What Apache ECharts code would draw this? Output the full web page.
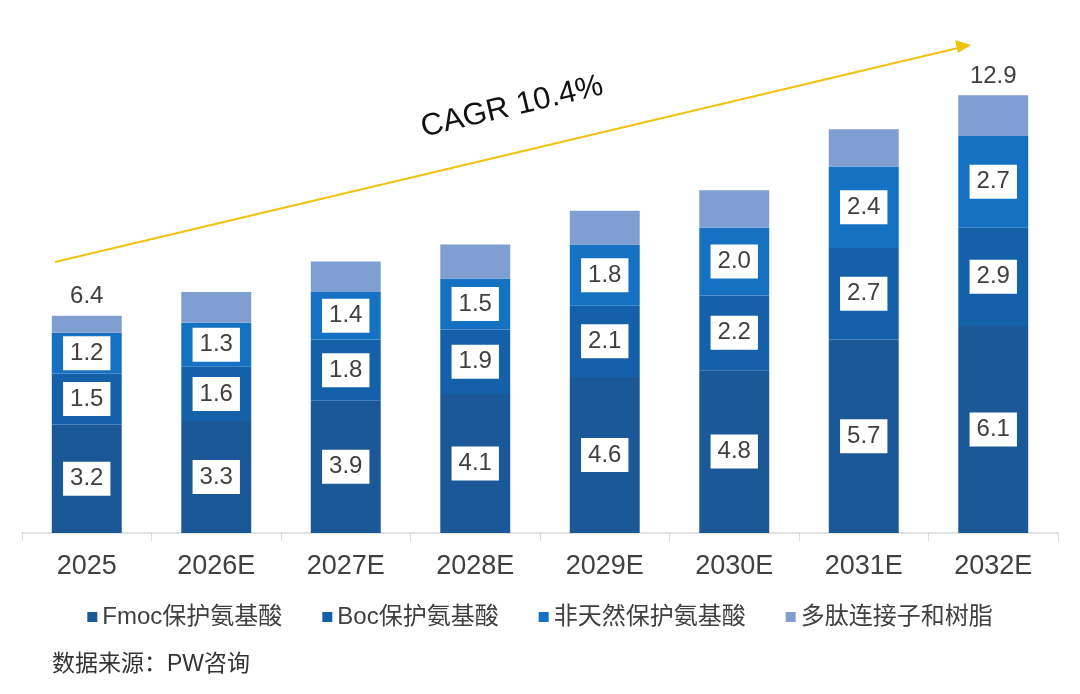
<!DOCTYPE html>
<html>
<head>
<meta charset="utf-8">
<script src="https://cdn.jsdelivr.net/npm/echarts@6/dist/echarts.min.js"></script>
<style>
  html, body { margin: 0; padding: 0; background: #fff; }
  #main { width: 1080px; height: 694px; }
</style>
</head>
<body>
<div id="main"></div>
<script>
// 年份
var years = ['2025', '2026E', '2027E', '2028E', '2029E', '2030E', '2031E', '2032E'];
// 各类产品规模
var fmocData = [3.2, 3.3, 3.9, 4.1, 4.6, 4.8, 5.7, 6.1];
var bocData = [1.5, 1.6, 1.8, 1.9, 2.1, 2.2, 2.7, 2.9];
var unnaturalData = [1.2, 1.3, 1.4, 1.5, 1.8, 2.0, 2.4, 2.7];
var linkerData = [0.5, 0.9, 0.9, 1.0, 1.0, 1.1, 1.1, 1.2];
// 总量标签（只标首尾）
var totalLabels = ['6.4', '', '', '', '', '', '', '12.9'];
var seriesNames = ['Fmoc保护氨基酸', 'Boc保护氨基酸', '非天然保护氨基酸', '多肽连接子和树脂'];

var numFont = '"Liberation Sans", Arial, "Noto Sans CJK SC", sans-serif';
var cnFont = '"Liberation Sans", "Noto Sans CJK SC", sans-serif';

var boxLabel = {
    show: true,
    position: 'inside',
    backgroundColor: '#ffffff',
    padding: [6, 7, 4, 7],
    color: '#404040',
    fontSize: 24,
    fontFamily: numFont,
    formatter: function (p) { return p.value.toFixed(1); }
};

var chart = echarts.init(document.getElementById('main'));
var option = {
    animation: false,
    color: ['#1a5898', '#1461a9', '#1571c2', '#7f9ed1'],
    grid: { left: 22, right: 22, top: 58, bottom: 161 },
    legend: {
        data: seriesNames,
        left: 'center',
        top: 600,
        itemWidth: 10,
        itemHeight: 10,
        itemGap: 40,
        icon: 'rect',
        textStyle: { color: '#404040', fontSize: 24, fontFamily: cnFont, padding: [0, 0, 0, 0] }
    },
    xAxis: {
        type: 'category',
        data: years,
        axisLine: { lineStyle: { color: '#d9d9d9', width: 1.5 } },
        axisTick: { show: true, length: 8, lineStyle: { color: '#d9d9d9' } },
        axisLabel: { color: '#404040', fontSize: 27, fontFamily: numFont, margin: 20 }
    },
    yAxis: {
        type: 'value',
        min: 0,
        max: 14,
        show: false,
        splitLine: { show: false }
    },
    series: [
        { name: seriesNames[0], type: 'bar', stack: 'total', barWidth: '54%', data: fmocData, label: boxLabel },
        { name: seriesNames[1], type: 'bar', stack: 'total', data: bocData, label: boxLabel },
        { name: seriesNames[2], type: 'bar', stack: 'total', data: unnaturalData, label: boxLabel },
        {
            name: seriesNames[3], type: 'bar', stack: 'total', data: linkerData,
            label: {
                show: true,
                position: 'top',
                distance: 7,
                color: '#404040',
                fontSize: 24,
                fontFamily: numFont,
                formatter: function (p) { return totalLabels[p.dataIndex]; }
            }
        }
    ],
    graphic: [
        {
            type: 'line',
            shape: { x1: 55, y1: 262, x2: 958, y2: 48 },
            style: { stroke: '#f0c20c', lineWidth: 2 }
        },
        {
            type: 'polygon',
            shape: { points: [[971, 45], [955, 40], [958, 53]] },
            style: { fill: '#f0c20c' }
        },
        {
            type: 'text',
            x: 512,
            y: 107,
            rotation: 13.3 * Math.PI / 180,
            style: {
                text: 'CAGR 10.4%',
                fill: '#111111',
                fontSize: 31,
                fontFamily: numFont,
                align: 'center',
                verticalAlign: 'middle'
            }
        },
        {
            type: 'text',
            left: 52,
            top: 653,
            style: {
                text: '数据来源：PW咨询',
                fill: '#333333',
                fontSize: 23,
                fontFamily: cnFont
            }
        }
    ]
};
chart.setOption(option);
</script>
</body>
</html>
